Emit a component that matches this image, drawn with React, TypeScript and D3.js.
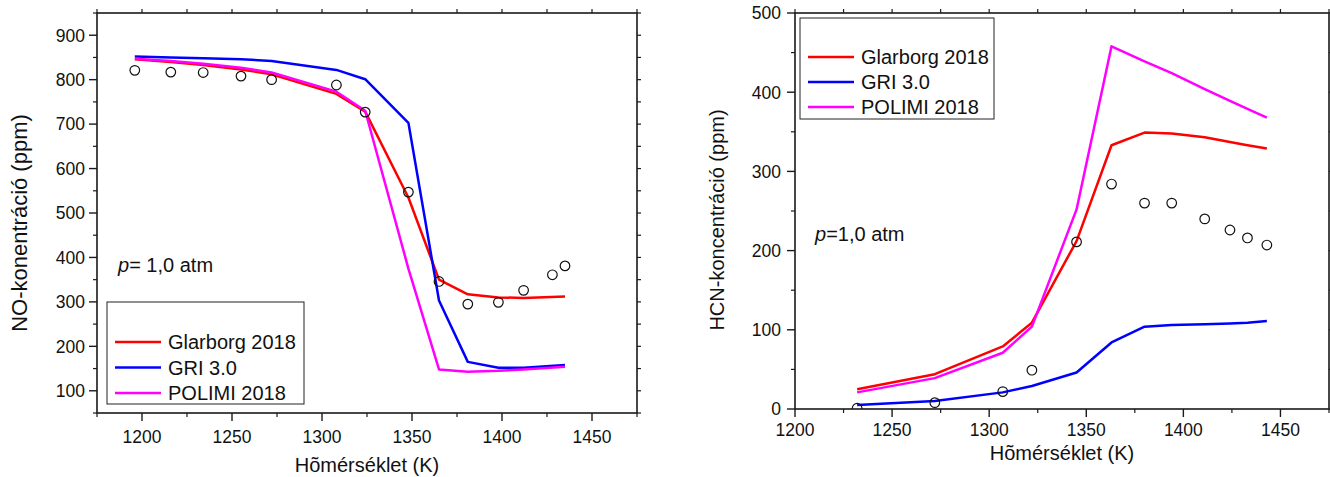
import React from "react";
import * as d3 from "d3";

// ---------- Left panel: NO ----------
const noExpT = [1196, 1216, 1234, 1255, 1272, 1308, 1324, 1348, 1365, 1381, 1398, 1412, 1428, 1435];
const noExp = [821, 817, 816, 808, 800, 788, 727, 547, 346, 295, 299, 326, 361, 381];
const noModelT = [1196, 1216, 1234, 1255, 1272, 1308, 1324, 1348, 1365, 1381, 1398, 1412, 1435];
const noGlarborg = [846, 840, 833, 823, 812, 768, 728, 535, 350, 317, 310, 309, 312];
const noGRI = [852, 850, 848, 846, 842, 822, 801, 703, 303, 165, 152, 152, 158];
const noPOLIMI = [847, 842, 836, 827, 816, 773, 730, 375, 148, 143, 145, 148, 154];

// ---------- Right panel: HCN ----------
const hcnExpT = [1232, 1272, 1307, 1322, 1345, 1363, 1380, 1394, 1411, 1424, 1433, 1443];
const hcnExp = [1, 8, 22, 49, 211, 284, 260, 260, 240, 226, 216, 207];
const hcnModelT = [1232, 1272, 1307, 1322, 1345, 1363, 1380, 1394, 1411, 1424, 1433, 1443];
const hcnGlarborg = [25, 44, 79, 109, 212, 333, 349, 348, 343, 337, 333, 329];
const hcnGRI = [5, 10, 21, 29, 46, 84, 104, 106, 107, 108, 109, 111];
const hcnPOLIMI = [21, 39, 71, 104, 252, 458, 439, 424, 404, 389, 379, 368];

const seriesNames = ["Glarborg 2018", "GRI 3.0", "POLIMI 2018"];
const seriesColors = ["#ff0000", "#0000ff", "#ff00ff"];

const noXTicks = [1200, 1250, 1300, 1350, 1400, 1450];
const noYTicks = [100, 200, 300, 400, 500, 600, 700, 800, 900];
const hcnXTicks = [1200, 1250, 1300, 1350, 1400, 1450];
const hcnYTicks = [0, 100, 200, 300, 400, 500];

const FONT = "'Liberation Sans', Arial, Helvetica, sans-serif";

type PanelProps = {
  id: string;
  left: number; top: number; right: number; bottom: number;
  xDomain: [number, number]; yDomain: [number, number];
  xTicks: number[]; yTicks: number[]; xMinorStep: number; yMinorStep: number;
  modelT: number[]; models: number[][];
  expT: number[]; exp: number[];
  yTitle: string; yTitleX: number; yTitleY: number; yTitleSize: number;
  xTitleY: number; tickLabelY: number; yLabelGap: number;
  legend: { x: number; y: number; w: number; h: number; firstRow: number; rowGap: number };
  pText: React.ReactNode; pX: number; pY: number;
};

function range(a: number, b: number, s: number) {
  const out: number[] = [];
  for (let v = a; v <= b + 1e-9; v += s) out.push(v);
  return out;
}

function Panel(p: PanelProps) {
  const x = d3.scaleLinear().domain(p.xDomain).range([p.left, p.right]);
  const y = d3.scaleLinear().domain(p.yDomain).range([p.bottom, p.top]);
  const line = d3
    .line<[number, number]>()
    .x((d) => x(d[0]))
    .y((d) => y(d[1]));
  const xMinor = range(p.xDomain[0], p.xDomain[1], p.xMinorStep).filter((v) => !p.xTicks.includes(v));
  const yMinor = range(p.yDomain[0], p.yDomain[1], p.yMinorStep).filter((v) => !p.yTicks.includes(v));
  const allX = range(p.xDomain[0], p.xDomain[1], p.xMinorStep);
  const allY = range(p.yDomain[0], p.yDomain[1], p.yMinorStep);
  const axisColor = "#1a1a1a";
  return (
    <g>
      <defs>
        <clipPath id={p.id + "-clip"}>
          <rect x={p.left} y={p.top} width={p.right - p.left} height={p.bottom - p.top} />
        </clipPath>
      </defs>
      <g clipPath={`url(#${p.id}-clip)`}>
        {p.models.map((vals, i) => (
          <path
            key={i}
            d={line(p.modelT.map((t, j) => [t, vals[j]] as [number, number])) || ""}
            fill="none"
            stroke={seriesColors[i]}
            strokeWidth={2.5}
            strokeLinejoin="round"
          />
        ))}
        {p.expT.map((t, j) => (
          <circle key={j} cx={x(t)} cy={y(p.exp[j])} r={4.8} fill="none" stroke="#111" strokeWidth={1.2} />
        ))}
      </g>
      <rect
        x={p.left}
        y={p.top}
        width={p.right - p.left}
        height={p.bottom - p.top}
        fill="none"
        stroke={axisColor}
        strokeWidth={1.6}
      />
      {p.xTicks.map((v) => (
        <line key={"xb" + v} x1={x(v)} x2={x(v)} y1={p.bottom} y2={p.bottom + 8} stroke={axisColor} strokeWidth={1.4} />
      ))}
      {xMinor.map((v) => (
        <line key={"xbm" + v} x1={x(v)} x2={x(v)} y1={p.bottom} y2={p.bottom + 4} stroke={axisColor} strokeWidth={1.2} />
      ))}
      {allX.map((v) => (
        <line key={"xt" + v} x1={x(v)} x2={x(v)} y1={p.top} y2={p.top - 4} stroke={axisColor} strokeWidth={1.2} />
      ))}
      {p.yTicks.map((v) => (
        <line key={"yl" + v} x1={p.left - 8} x2={p.left} y1={y(v)} y2={y(v)} stroke={axisColor} strokeWidth={1.4} />
      ))}
      {yMinor.map((v) => (
        <line key={"ylm" + v} x1={p.left - 4} x2={p.left} y1={y(v)} y2={y(v)} stroke={axisColor} strokeWidth={1.2} />
      ))}
      {allY.map((v) => (
        <line key={"yr" + v} x1={p.right} x2={p.right + 4} y1={y(v)} y2={y(v)} stroke={axisColor} strokeWidth={1.2} />
      ))}
      {p.xTicks.map((v) => (
        <text key={"xl" + v} x={x(v)} y={p.tickLabelY} textAnchor="middle" fontSize={17.5} fontFamily={FONT} fill="#111">
          {v}
        </text>
      ))}
      {p.yTicks.map((v) => (
        <text
          key={"ylb" + v}
          x={p.left - p.yLabelGap}
          y={y(v)}
          dy="0.36em"
          textAnchor="end"
          fontSize={17.5}
          fontFamily={FONT}
          fill="#111"
        >
          {v}
        </text>
      ))}
      <text
        x={(p.left + p.right) / 2}
        y={p.xTitleY}
        textAnchor="middle"
        fontSize={20}
        fontFamily={FONT}
        fill="#111"
      >
        Hõmérséklet (K)
      </text>
      <text
        transform={`translate(${p.yTitleX},${p.yTitleY}) rotate(-90)`}
        textAnchor="middle"
        fontSize={p.yTitleSize}
        fontFamily={FONT}
        fill="#111"
      >
        {p.yTitle}
      </text>
      <text x={p.pX} y={p.pY} fontSize={20} fontFamily={FONT} fill="#111">
        {p.pText}
      </text>
      <rect
        x={p.legend.x}
        y={p.legend.y}
        width={p.legend.w}
        height={p.legend.h}
        fill="#fff"
        stroke="#222"
        strokeWidth={1}
      />
      {seriesNames.map((name, i) => {
        const ry = p.legend.firstRow + i * p.legend.rowGap;
        return (
          <g key={name}>
            <line
              x1={p.legend.x + 8}
              x2={p.legend.x + 54}
              y1={ry}
              y2={ry}
              stroke={seriesColors[i]}
              strokeWidth={2.5}
            />
            <text x={p.legend.x + 61} y={ry} dy="0.36em" fontSize={20} fontFamily={FONT} fill="#111">
              {name}
            </text>
          </g>
        );
      })}
    </g>
  );
}

export default function App() {
  return (
    <svg
      width={1330}
      height={477}
      viewBox="0 0 1330 477"
      style={{ position: "absolute", left: 0, top: 0, background: "#fff" }}
    >
      <rect x={0} y={0} width={1330} height={477} fill="#fff" />
      <Panel
        id="no"
        left={97}
        top={13}
        right={637}
        bottom={413}
        xDomain={[1175, 1475]}
        yDomain={[50, 950]}
        xTicks={noXTicks}
        yTicks={noYTicks}
        xMinorStep={25}
        yMinorStep={50}
        modelT={noModelT}
        models={[noGlarborg, noGRI, noPOLIMI]}
        expT={noExpT}
        exp={noExp}
        yTitle="NO-konentráció (ppm)"
        yTitleX={27}
        yTitleY={223}
        yTitleSize={22}
        xTitleY={472}
        tickLabelY={443}
        yLabelGap={12}
        legend={{ x: 107, y: 302, w: 197, h: 102, firstRow: 342, rowGap: 25.5 }}
        pText={
          <>
            <tspan fontStyle="italic">p</tspan>= 1,0 atm
          </>
        }
        pX={118}
        pY={272}
      />
      <Panel
        id="hcn"
        left={795}
        top={13}
        right={1329}
        bottom={409}
        xDomain={[1200, 1475]}
        yDomain={[0, 500]}
        xTicks={hcnXTicks}
        yTicks={hcnYTicks}
        xMinorStep={25}
        yMinorStep={50}
        modelT={hcnModelT}
        models={[hcnGlarborg, hcnGRI, hcnPOLIMI]}
        expT={hcnExpT}
        exp={hcnExp}
        yTitle="HCN-koncentráció (ppm)"
        yTitleX={724}
        yTitleY={220}
        yTitleSize={20}
        xTitleY={460}
        tickLabelY={436}
        yLabelGap={14}
        legend={{ x: 800, y: 18, w: 194, h: 101, firstRow: 57, rowGap: 25 }}
        pText={
          <>
            <tspan fontStyle="italic">p</tspan>=1,0 atm
          </>
        }
        pX={815}
        pY={241}
      />
    </svg>
  );
}
